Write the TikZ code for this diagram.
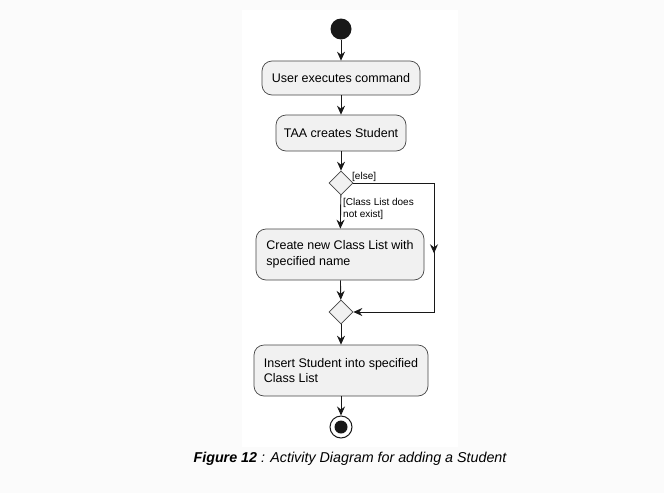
\documentclass[tikz,border=0pt]{standalone}
\usepackage{fontspec}
\setmainfont{Liberation Sans}
\usetikzlibrary{shapes.geometric,arrows.meta,decorations.markings}
\definecolor{boxfill}{HTML}{F1F1F1}
\definecolor{ink}{HTML}{181818}
\definecolor{outerbg}{HTML}{FBFBFB}
\begin{document}
\begin{tikzpicture}[x=1pt,y=-1pt,
  act/.style={draw=ink!80,fill=boxfill,rounded corners=10pt,line width=0.7pt,inner sep=0pt,font=\fontsize{12.5}{15.5}\selectfont},
  choice/.style={draw=ink!80,fill=boxfill,diamond,minimum width=24pt,minimum height=24pt,inner sep=0pt,line width=0.7pt},
  flow/.style={draw=ink,line width=0.9pt,-{Stealth[length=9pt,width=8pt,inset=3pt]}},
  guard/.style={font=\fontsize{10}{12}\selectfont,inner sep=0pt,align=left}
]
\useasboundingbox (0,0) rectangle (664,493);
\fill[outerbg] (0,0) rectangle (664,493);
\fill[white] (242,10) rectangle (458,447);

\node[circle,fill=ink,minimum size=21pt,inner sep=0pt] (start) at (341,29) {};
\node[act,minimum width=158pt,minimum height=34pt] (b1) at (341,78) {User executes command};
\node[act,minimum width=130pt,minimum height=36pt] (b2) at (341,133) {TAA creates Student};
\node[choice] (d1) at (341,183) {};
\node[act,minimum width=168pt,minimum height=51pt,align=left] (b3) at (340,254.5) {Create new Class List with\\specified name};
\node[choice] (d2) at (341,312) {};
\node[act,minimum width=174pt,minimum height=51pt,align=left] (b4) at (341,370.5) {Insert Student into specified\\Class List};
\node[circle,draw=ink,line width=1pt,fill=white,minimum size=22pt,inner sep=0pt] (end) at (341,427) {};
\node[circle,fill=ink,minimum size=13pt,inner sep=0pt] (endin) at (end) {};

\coordinate (c1) at (434,183);
\coordinate (c2) at (434,312);

\draw[flow] (start) -- (b1);
\draw[flow] (b1) -- (b2);
\draw[flow] (b2) -- (d1);
\draw[flow] (d1) -- (b3);
\draw[flow] (b3) -- (d2);
\draw[flow] (d2) -- (b4);
\draw[flow] (b4) -- (end);
\draw[flow,postaction={decorate},decoration={markings,mark=at position 0.52 with {\arrow{Stealth[length=9pt,width=8pt,inset=3pt]}}}] (d1.east) -- (c1) -- (c2) -- (d2.east);

\node[guard,anchor=north west] (lelse) at (352,172) {[else]};
\node[guard,anchor=north west] (lcl) at (343,198) {[Class List does\\not exist]};

\node[font=\fontsize{14.3}{16}\selectfont\itshape] (cap) at (350,459) {\textbf{Figure 12} : Activity Diagram for adding a Student};
\end{tikzpicture}
\end{document}
